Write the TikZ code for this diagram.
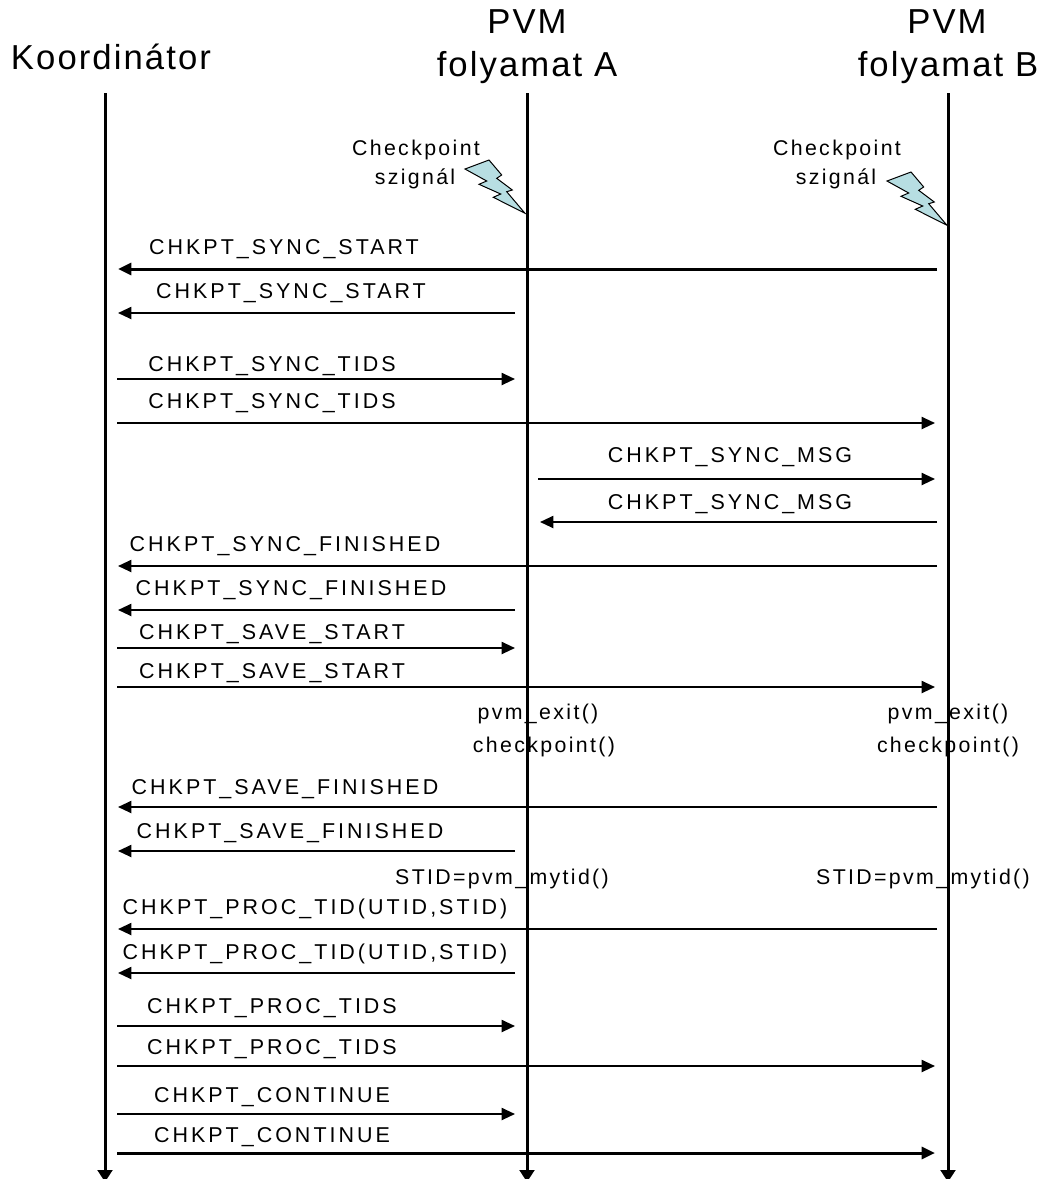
\documentclass[tikz,border=0pt]{standalone}
\usepackage{fontspec}
\usetikzlibrary{arrows.meta}
\newfontfamily\msgfont[LetterSpace=14]{Liberation Sans}
\newfontfamily\smallfont[LetterSpace=11]{Liberation Sans}
\newfontfamily\titlefont[LetterSpace=6]{Liberation Sans}
\definecolor{boltfill}{HTML}{B7DEE2}
\tikzset{
  msgtext/.style={inner sep=0pt,anchor=base,font=\msgfont\fontsize{16.1}{18}\selectfont},
  notetext/.style={inner sep=0pt,anchor=base,font=\smallfont\fontsize{16}{17}\selectfont},
  titletext/.style={inner sep=0pt,anchor=base,font=\titlefont\fontsize{26}{28}\selectfont},
  lifeline/.style={line width=2.25pt,-{Triangle[length=9pt,width=11pt]}},
  msgline/.style={line width=1.5pt,-{Triangle[length=10pt,width=9pt]}},
  msgthick/.style={line width=2.25pt,-{Triangle[length=10pt,width=9pt]}},
  boltshape/.style={draw=black,fill=boltfill,line width=0.75pt,line join=miter},
}
\newcommand{\msgarrow}[8]{%
  % id, style, x-from, x-to, y, label, label x, label baseline
  \coordinate (#1from) at (#3,#5);
  \coordinate (#1to) at (#4,#5);
  \node[msgtext] (#1label) at (#7,#8) {#6};
  \draw[#2] (#1from) -- (#1to);
}
\begin{document}
\begin{tikzpicture}[x=0.75pt,y=-0.75pt]
\clip (0,0) rectangle (1041,1179);
\fill[white] (0,0) rectangle (1041,1179);

% titles
\node[titletext] (koord) at (111,69) {Koordinátor};
\node[titletext] (pvma) at (527,33) {PVM};
\node[titletext] (folya) at (527,76) {folyamat A};
\node[titletext] (pvmb) at (947,33) {PVM};
\node[titletext] (folyb) at (948,76) {folyamat B};

% notes
\node[notetext] (cpa) at (416,155) {Checkpoint};
\node[notetext] (sza) at (415,184) {szignál};
\node[notetext] (cpb) at (837,155) {Checkpoint};
\node[notetext] (szb) at (836,184) {szignál};
\node[notetext] (exita) at (538,719) {pvm\_exit()};
\node[notetext] (cka) at (544,752) {checkpoint()};
\node[notetext] (exitb) at (948,719) {pvm\_exit()};
\node[notetext] (ckb) at (948,752) {checkpoint()};
\node[notetext] (stida) at (502,884) {STID=pvm\_mytid()};
\node[notetext] (stidb) at (923,884) {STID=pvm\_mytid()};

% lightning bolts
\foreach \dx/\dy in {0/0,422/12}{
  \draw[boltshape,shift={(\dx,\dy)}]
    (525,213.3) -- (493.3,197.3) -- (500.7,194) -- (479,184.3) -- (486.7,181)
    -- (465,169) -- (489,160) -- (501.7,175) -- (496.7,178.3) -- (512.3,190)
    -- (506.7,191.7) -- cycle;
}

% lifelines
\coordinate (lk0) at (105,93); \coordinate (lk1) at (105,1182);
\coordinate (la0) at (527,93); \coordinate (la1) at (527,1182);
\coordinate (lb0) at (948,93); \coordinate (lb1) at (948,1182);
\draw[lifeline] (lk0) -- (lk1);
\draw[lifeline] (la0) -- (la1);
\draw[lifeline] (lb0) -- (lb1);

% messages
\msgarrow{ma}{msgthick}{937}{118}{269}{CHKPT\_SYNC\_START}{284}{254}
\msgarrow{mb}{msgline}{515}{118}{313}{CHKPT\_SYNC\_START}{291}{298}
\msgarrow{mc}{msgline}{117}{515}{379}{CHKPT\_SYNC\_TIDS}{272}{371}
\msgarrow{md}{msgline}{117}{935}{423}{CHKPT\_SYNC\_TIDS}{272}{408}
\msgarrow{me}{msgline}{538}{935}{479}{CHKPT\_SYNC\_MSG}{730}{462}
\msgarrow{mf}{msgline}{937}{540}{522}{CHKPT\_SYNC\_MSG}{730}{509}
\msgarrow{mg}{msgline}{937}{118}{566}{CHKPT\_SYNC\_FINISHED}{285}{551}
\msgarrow{mh}{msgline}{515}{118}{610}{CHKPT\_SYNC\_FINISHED}{291}{595}
\msgarrow{mi}{msgline}{117}{515}{648}{CHKPT\_SAVE\_START}{272}{639}
\msgarrow{mj}{msgline}{117}{935}{687}{CHKPT\_SAVE\_START}{272}{678}
\msgarrow{mk}{msgline}{937}{118}{807}{CHKPT\_SAVE\_FINISHED}{285}{794}
\msgarrow{ml}{msgline}{515}{118}{851}{CHKPT\_SAVE\_FINISHED}{290}{838}
\msgarrow{mm}{msgline}{937}{118}{929}{CHKPT\_PROC\_TID(UTID,STID)}{315}{914}
\msgarrow{mn}{msgline}{515}{118}{973}{CHKPT\_PROC\_TID(UTID,STID)}{315}{959}
\msgarrow{mo}{msgline}{117}{515}{1026}{CHKPT\_PROC\_TIDS}{272}{1013}
\msgarrow{mp}{msgline}{117}{935}{1066}{CHKPT\_PROC\_TIDS}{272}{1054}
\msgarrow{mq}{msgline}{117}{515}{1114}{CHKPT\_CONTINUE}{272}{1102}
\msgarrow{mr}{msgthick}{117}{935}{1153}{CHKPT\_CONTINUE}{272}{1142}
\end{tikzpicture}
\end{document}
